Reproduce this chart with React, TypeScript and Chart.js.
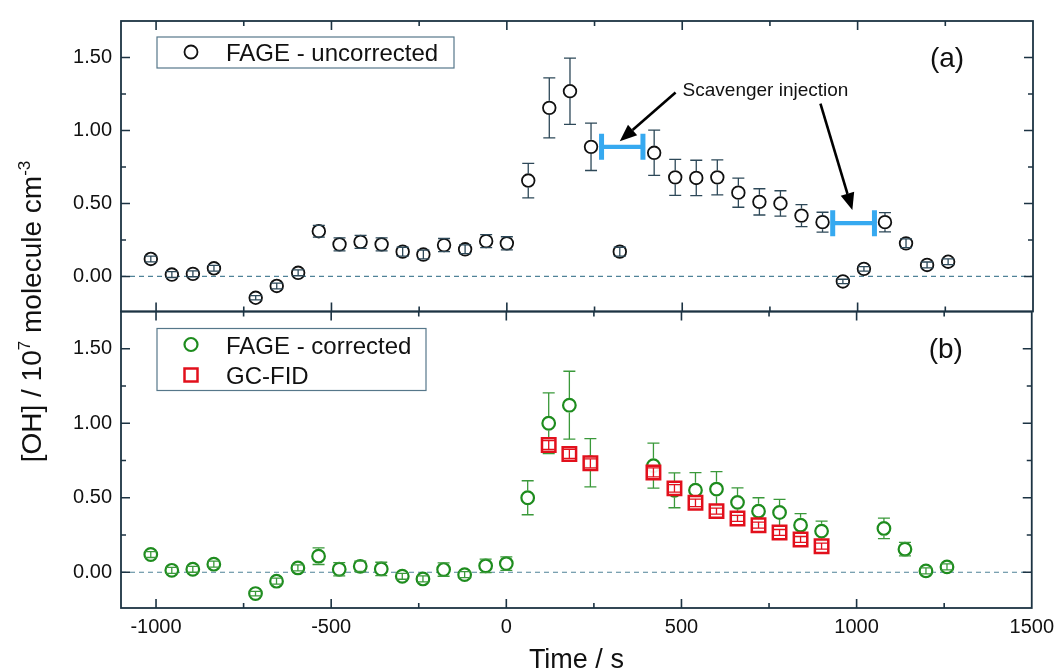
import React, { useEffect, useRef } from 'react';
import { Chart, registerables } from 'chart.js';

Chart.register(...registerables);

const FONT = '"Liberation Sans", Arial, Helvetica, sans-serif';

// ---------- Data ----------
// Panel (a): FAGE - uncorrected
const timesA = [-1015, -955, -895, -835, -716, -656, -595, -536, -477, -417, -357, -297, -238, -179, -119, -59, 0, 61, 121, 180, 240, 322, 420, 480, 540, 600, 660, 720, 780, 840, 900, 958, 1018, 1078, 1138, 1198, 1258];
const fageUncorrected = [0.12, 0.013, 0.018, 0.056, -0.146, -0.065, 0.025, 0.31, 0.22, 0.237, 0.22, 0.17, 0.15, 0.215, 0.186, 0.242, 0.227, 0.657, 1.155, 1.269, 0.888, 0.17, 0.847, 0.679, 0.675, 0.679, 0.574, 0.511, 0.5, 0.417, 0.372, -0.034, 0.052, 0.372, 0.227, 0.079, 0.101];
const fageUncorrectedErr = [0.02, 0.02, 0.02, 0.02, 0.015, 0.02, 0.02, 0.04, 0.045, 0.045, 0.045, 0.03, 0.03, 0.045, 0.03, 0.045, 0.045, 0.118, 0.205, 0.227, 0.162, 0.03, 0.155, 0.123, 0.121, 0.12, 0.1, 0.09, 0.087, 0.075, 0.068, 0.015, 0.015, 0.066, 0.03, 0.02, 0.02];

// Scavenger injection periods (panel a)
const scavStart = [270, 929];
const scavEnd = [388, 1048];
const scavLevel = [0.888, 0.365];

// Panel (b): FAGE - corrected
const timesB = [-1015, -955, -895, -835, -716, -656, -595, -536, -477, -417, -357, -297, -238, -179, -119, -59, 0, 61, 121, 180, 240, 420, 480, 540, 600, 660, 720, 780, 840, 900, 1078, 1138, 1198, 1258];
const fageCorrected = [0.119, 0.013, 0.02, 0.054, -0.143, -0.06, 0.029, 0.108, 0.02, 0.04, 0.022, -0.027, -0.045, 0.018, -0.016, 0.043, 0.058, 0.5, 1.0, 1.121, 0.735, 0.715, 0.55, 0.551, 0.558, 0.469, 0.41, 0.401, 0.316, 0.276, 0.294, 0.155, 0.009, 0.036];
const fageCorrectedErr = [0.02, 0.02, 0.02, 0.02, 0.015, 0.02, 0.02, 0.056, 0.045, 0.035, 0.045, 0.02, 0.02, 0.045, 0.02, 0.045, 0.045, 0.114, 0.204, 0.228, 0.162, 0.151, 0.117, 0.117, 0.117, 0.097, 0.09, 0.088, 0.078, 0.067, 0.069, 0.045, 0.02, 0.02];

// Panel (b): GC-FID
const timesGC = [121, 180, 240, 420, 480, 540, 600, 660, 720, 780, 840, 900];
const gcFid = [0.854, 0.794, 0.731, 0.67, 0.563, 0.466, 0.41, 0.361, 0.316, 0.267, 0.22, 0.175];
const gcFidErr = [0.03, 0.03, 0.03, 0.03, 0.025, 0.025, 0.02, 0.02, 0.02, 0.02, 0.02, 0.02];

// Axes
const xMin = -1100;
const xMax = 1500;
const xTickValues = [-1000, -500, 0, 500, 1000, 1500];
const xMinorValues = [-750, -250, 250, 750, 1250];
const yMin = -0.24;
const yMax = 1.75;
const yTickValues = [0, 0.5, 1.0, 1.5];
const yMinorValues = [0.25, 0.75, 1.25];

// ---------- Helpers ----------
const FRAME = '#1c3343';

const toPts = (xs: number[], ys: number[]) => xs.map((x, i) => ({ x, y: ys[i] }));

const errorBarsPlugin = {
  id: 'errorBars',
  afterDatasetDraw(chart: any, args: any) {
    const ds = chart.data.datasets[args.index];
    if (!ds.errors) return;
    const ctx = chart.ctx;
    const ys = chart.scales.y;
    const meta = args.meta;
    const r = ds.markerR || 7;
    ctx.save();
    ctx.strokeStyle = ds.errColor;
    ctx.lineWidth = 1.3;
    meta.data.forEach((el: any, i: number) => {
      const v = ds.data[i].y;
      const e = ds.errors[i];
      const px = el.x;
      const py = el.y;
      const yT = ys.getPixelForValue(v + e);
      const yB = ys.getPixelForValue(v - e);
      const ep = py - yT;
      ctx.beginPath();
      if (ep > r) {
        ctx.moveTo(px, yT);
        ctx.lineTo(px, py - r);
        ctx.moveTo(px, py + r);
        ctx.lineTo(px, yB);
      } else if (ep < r - 2.5) {
        ctx.moveTo(px, yT);
        ctx.lineTo(px, yB);
      }
      ctx.moveTo(px - 6, yT);
      ctx.lineTo(px + 6, yT);
      ctx.moveTo(px - 6, yB);
      ctx.lineTo(px + 6, yB);
      ctx.stroke();
    });
    ctx.restore();
  },
};

const framePlugin = {
  id: 'frame',
  beforeDatasetsDraw(chart: any) {
    const ctx = chart.ctx;
    const { left, right } = chart.chartArea;
    const y0 = chart.scales.y.getPixelForValue(0);
    ctx.save();
    ctx.strokeStyle = '#4f8298';
    ctx.lineWidth = 1.2;
    ctx.setLineDash([5, 4]);
    ctx.beginPath();
    ctx.moveTo(left, y0);
    ctx.lineTo(right, y0);
    ctx.stroke();
    ctx.restore();
  },
  afterDraw(chart: any) {
    const ctx = chart.ctx;
    const { left, right, top, bottom } = chart.chartArea;
    const xs = chart.scales.x;
    const ys = chart.scales.y;
    ctx.save();
    ctx.strokeStyle = FRAME;
    ctx.lineWidth = 1.6;
    ctx.beginPath();
    const tick = (vals: number[], len: number) => {
      vals.forEach((v) => {
        const px = xs.getPixelForValue(v);
        if (px > left + 1 && px < right - 1) {
          ctx.moveTo(px, bottom);
          ctx.lineTo(px, bottom - len);
          ctx.moveTo(px, top);
          ctx.lineTo(px, top + len);
        }
      });
    };
    const ytick = (vals: number[], len: number) => {
      vals.forEach((v) => {
        const py = ys.getPixelForValue(v);
        ctx.moveTo(left, py);
        ctx.lineTo(left + len, py);
        ctx.moveTo(right, py);
        ctx.lineTo(right - len, py);
      });
    };
    tick(xTickValues, 9);
    tick(xMinorValues, 5);
    ytick(yTickValues, 9);
    ytick(yMinorValues, 5);
    ctx.stroke();
    ctx.lineWidth = 1.8;
    ctx.strokeRect(left, top, right - left, bottom - top);
    ctx.restore();
  },
};

function drawArrow(ctx: CanvasRenderingContext2D, x1: number, y1: number, x2: number, y2: number) {
  const ang = Math.atan2(y2 - y1, x2 - x1);
  const hl = 17;
  const hw = 7;
  const bx = x2 - hl * Math.cos(ang);
  const by = y2 - hl * Math.sin(ang);
  ctx.beginPath();
  ctx.moveTo(x1, y1);
  ctx.lineTo(bx, by);
  ctx.stroke();
  ctx.beginPath();
  ctx.moveTo(x2, y2);
  ctx.lineTo(bx + hw * Math.sin(ang), by - hw * Math.cos(ang));
  ctx.lineTo(bx - hw * Math.sin(ang), by + hw * Math.cos(ang));
  ctx.closePath();
  ctx.fill();
}

const topTextPlugin = {
  id: 'topText',
  afterDraw(chart: any) {
    const ctx = chart.ctx;
    const xs = chart.scales.x;
    const ys = chart.scales.y;
    const { left, top, right } = chart.chartArea;
    ctx.save();
    // legend
    ctx.strokeStyle = '#56778a';
    ctx.lineWidth = 1.2;
    ctx.strokeRect(left + 36, top + 16, 297, 31);
    ctx.beginPath();
    ctx.arc(left + 70, top + 31, 6.5, 0, Math.PI * 2);
    ctx.strokeStyle = '#111';
    ctx.lineWidth = 1.8;
    ctx.stroke();
    ctx.fillStyle = '#111';
    ctx.font = `24px ${FONT}`;
    ctx.textBaseline = 'alphabetic';
    ctx.textAlign = 'left';
    ctx.fillText('FAGE - uncorrected', left + 105, top + 39.5);
    // panel label
    ctx.font = `28px ${FONT}`;
    ctx.textAlign = 'center';
    ctx.fillText('(a)', right - 86, top + 46);
    // annotation
    ctx.font = `19px ${FONT}`;
    ctx.textAlign = 'left';
    ctx.fillText('Scavenger injection', xs.getPixelForValue(501), ys.getPixelForValue(1.233));
    ctx.strokeStyle = '#000';
    ctx.fillStyle = '#000';
    ctx.lineWidth = 2.6;
    drawArrow(ctx, xs.getPixelForValue(481), ys.getPixelForValue(1.26), xs.getPixelForValue(322), ys.getPixelForValue(0.926));
    drawArrow(ctx, xs.getPixelForValue(894), ys.getPixelForValue(1.184), xs.getPixelForValue(985), ys.getPixelForValue(0.455));
    ctx.restore();
  },
};

const bottomTextPlugin = {
  id: 'bottomText',
  afterDraw(chart: any) {
    const ctx = chart.ctx;
    const { left, top, right, bottom } = chart.chartArea;
    ctx.save();
    // legend
    ctx.strokeStyle = '#56778a';
    ctx.lineWidth = 1.2;
    ctx.strokeRect(left + 36, top + 17, 269, 62);
    ctx.beginPath();
    ctx.arc(left + 70, top + 33, 6.5, 0, Math.PI * 2);
    ctx.strokeStyle = '#1e8c1e';
    ctx.lineWidth = 2.2;
    ctx.stroke();
    ctx.strokeStyle = '#e2101c';
    ctx.lineWidth = 2.5;
    ctx.strokeRect(left + 70 - 6.5, top + 63.5 - 6.5, 13, 13);
    ctx.fillStyle = '#111';
    ctx.font = `24px ${FONT}`;
    ctx.textAlign = 'left';
    ctx.textBaseline = 'alphabetic';
    ctx.fillText('FAGE - corrected', left + 105, top + 42);
    ctx.fillText('GC-FID', left + 105, top + 72);
    // panel label
    ctx.font = `28px ${FONT}`;
    ctx.textAlign = 'center';
    ctx.fillText('(b)', right - 86, top + 46);
    // x title
    ctx.font = `27px ${FONT}`;
    ctx.fillText('Time / s', (left + right) / 2, 668);
    // y title (rotated, with superscripts)
    const parts = [
      { t: '[OH] / 10', s: 28, sup: false },
      { t: '7', s: 17, sup: true },
      { t: ' molecule cm', s: 28, sup: false },
      { t: '-3', s: 17, sup: true },
    ];
    let total = 0;
    parts.forEach((p) => {
      ctx.font = `${p.s}px ${FONT}`;
      total += ctx.measureText(p.t).width;
    });
    ctx.translate(31, (15 + bottom) / 2);
    ctx.rotate(-Math.PI / 2);
    ctx.textAlign = 'left';
    ctx.textBaseline = 'alphabetic';
    let x = -total / 2;
    parts.forEach((p) => {
      ctx.font = `${p.s}px ${FONT}`;
      ctx.fillText(p.t, x, p.sup ? -1 : 10);
      x += ctx.measureText(p.t).width;
    });
    ctx.restore();
  },
};

const yScaleCfg = () => ({
  type: 'linear',
  min: yMin,
  max: yMax,
  afterBuildTicks: (s: any) => {
    s.ticks = yTickValues.map((v) => ({ value: v }));
  },
  afterFit: (s: any) => {
    s.width = 121;
  },
  grid: { display: false, drawTicks: false },
  border: { display: false },
  ticks: {
    padding: 9,
    color: '#111',
    font: { family: FONT, size: 20 },
    callback: (v: any) => Number(v).toFixed(2),
  },
});

function topConfig(): any {
  return {
    type: 'scatter',
    data: {
      datasets: [
        ...scavStart.map((s, i) => ({
          type: 'line',
          data: [
            { x: s, y: scavLevel[i] },
            { x: scavEnd[i], y: scavLevel[i] },
          ],
          borderColor: '#36a9f0',
          borderWidth: 4.2,
          pointStyle: 'line',
          rotation: 90,
          pointRadius: 13,
          pointBorderWidth: 5,
          pointBorderColor: '#36a9f0',
          order: 0,
        })),
        {
          label: 'FAGE - uncorrected',
          data: toPts(timesA, fageUncorrected),
          errors: fageUncorrectedErr,
          errColor: '#2d4858',
          markerR: 7,
          pointRadius: 6.3,
          pointBorderWidth: 1.8,
          pointBorderColor: '#111',
          pointBackgroundColor: '#fff',
          order: 1,
        },
      ],
    },
    options: {
      responsive: false,
      devicePixelRatio: 1,
      animation: false,
      events: [],
      layout: { padding: { left: 0, top: 15, right: 28, bottom: 360.5 } },
      scales: {
        x: { type: 'linear', min: xMin, max: xMax, display: false },
        y: yScaleCfg(),
      },
      plugins: { legend: { display: false }, tooltip: { enabled: false } },
    },
    plugins: [framePlugin, errorBarsPlugin, topTextPlugin],
  };
}

function bottomConfig(): any {
  return {
    type: 'scatter',
    data: {
      datasets: [
        {
          label: 'FAGE - corrected',
          data: toPts(timesB, fageCorrected),
          errors: fageCorrectedErr,
          errColor: '#3a993a',
          markerR: 7.3,
          pointRadius: 6.3,
          pointBorderWidth: 2.2,
          pointBorderColor: '#1e8c1e',
          pointBackgroundColor: '#fff',
          order: 2,
        },
        {
          label: 'GC-FID',
          data: toPts(timesGC, gcFid),
          errors: gcFidErr,
          errColor: '#e2101c',
          markerR: 7.5,
          pointStyle: 'rect',
          pointRadius: 9.5,
          pointBorderWidth: 2.5,
          pointBorderColor: '#e2101c',
          pointBackgroundColor: 'rgba(255,255,255,0.92)',
          order: 1,
        },
      ],
    },
    options: {
      responsive: false,
      devicePixelRatio: 1,
      animation: false,
      events: [],
      layout: { padding: { left: 0, top: 311.5, right: 28, bottom: 0 } },
      scales: {
        x: {
          type: 'linear',
          min: xMin,
          max: xMax,
          afterBuildTicks: (s: any) => {
            s.ticks = xTickValues.map((v) => ({ value: v }));
          },
          afterFit: (s: any) => {
            s.height = 64;
          },
          grid: { display: false, drawTicks: false },
          border: { display: false },
          ticks: {
            padding: 7,
            color: '#111',
            maxRotation: 0,
            autoSkip: false,
            font: { family: FONT, size: 20 },
            callback: (v: any) => String(v),
          },
        },
        y: yScaleCfg(),
      },
      plugins: { legend: { display: false }, tooltip: { enabled: false } },
    },
    plugins: [framePlugin, errorBarsPlugin, bottomTextPlugin],
  };
}

export default function App() {
  const topRef = useRef<HTMLCanvasElement>(null);
  const botRef = useRef<HTMLCanvasElement>(null);
  useEffect(() => {
    const c1 = new Chart(topRef.current as HTMLCanvasElement, topConfig());
    const c2 = new Chart(botRef.current as HTMLCanvasElement, bottomConfig());
    return () => {
      c1.destroy();
      c2.destroy();
    };
  }, []);
  return (
    <div style={{ position: 'fixed', left: 0, top: 0, width: 1061, height: 672, background: '#fff' }}>
      <canvas ref={topRef} width={1061} height={672} style={{ position: 'absolute', left: 0, top: 0 }} />
      <canvas ref={botRef} width={1061} height={672} style={{ position: 'absolute', left: 0, top: 0 }} />
    </div>
  );
}
